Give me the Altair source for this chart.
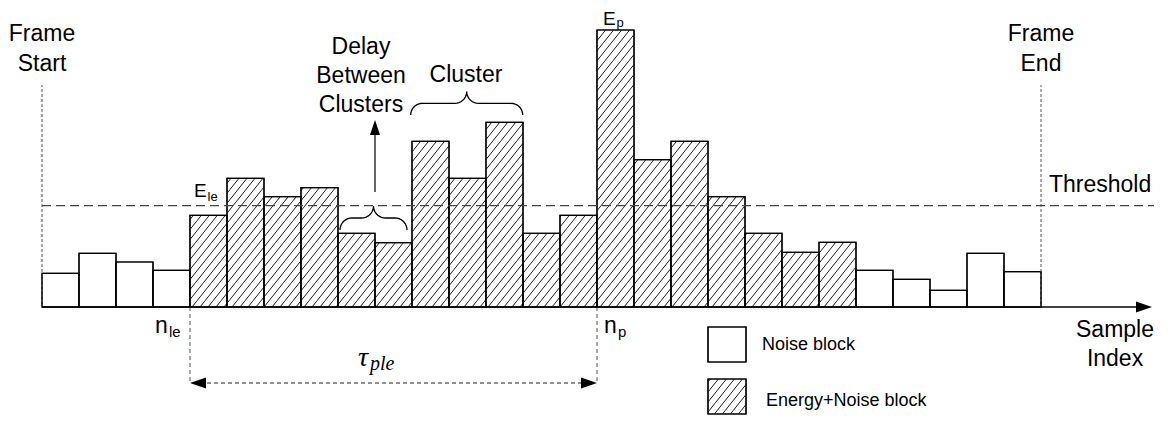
import altair as alt
import pandas as pd
import numpy as np

# ---------------- data ----------------
energy = [33.7, 53.7, 45.0, 36.7, 91.7, 128.7, 110.3, 119.3, 73.7, 64.3,
          165.7, 128.7, 184.7, 73.7, 91.7, 277.0, 147.3, 165.7, 110.3, 73.7,
          54.7, 64.7, 36.7, 27.7, 16.7, 53.7, 35.3]
kind = ["Noise"] * 4 + ["Energy+Noise"] * 18 + ["Noise"] * 5
threshold_level = 101.3
n_le_index = 4
n_p_index = 15
frame_start_index = 0
frame_end_index = 27

# ---------------- layout helpers ----------------
W, H = 1159, 407
BAR_PX = 37.0
X0_PX, BASE_PX = 42.0, 307.0


def U(px):
    return (px - X0_PX) / BAR_PX


def V(py):
    return BASE_PX - py


xs = alt.Scale(domain=[U(8), U(8 + W)], nice=False, zero=False)
ys = alt.Scale(domain=[V(8 + H), V(8)], nice=False, zero=False)


def enc_xy(**extra):
    e = dict(x=alt.X("x:Q", scale=xs, axis=None),
             y=alt.Y("y:Q", scale=ys, axis=None))
    e.update(extra)
    return e


# bars
bars_df = pd.DataFrame({
    "x": np.arange(len(energy)),
    "x2": np.arange(len(energy)) + 1,
    "y": 0.0,
    "y2": energy,
    "kind": kind,
})

# legend boxes
legend_df = pd.DataFrame({
    "x": [U(708), U(708)], "x2": [U(746), U(746)],
    "y": [V(362), V(414)], "y2": [V(327), V(379)],
    "kind": ["Noise", "Energy+Noise"],
})

# hatch lines ("/") clipped to every hatched rectangle
HATCH_D, HATCH_M = 8.0, 1.25
rects = [r for r in bars_df.itertuples() if r.kind == "Energy+Noise"]
rects += [r for r in legend_df.itertuples() if r.kind == "Energy+Noise"]
hx, hy, hx2, hy2 = [], [], [], []
for r in rects:
    xa, xb = X0_PX + r.x * BAR_PX, X0_PX + r.x2 * BAR_PX
    qa, qb = r.y, r.y2
    kmin = int(np.floor((xa - qb / HATCH_M) / HATCH_D)) - 1
    kmax = int(np.ceil((xb - qa / HATCH_M) / HATCH_D)) + 1
    for k in range(kmin, kmax + 1):
        c = k * HATCH_D
        s = max(qa, (xa - c) * HATCH_M)
        e = min(qb, (xb - c) * HATCH_M)
        if e - s > 0.5:
            hx.append(U(c + s / HATCH_M)); hy.append(s)
            hx2.append(U(c + e / HATCH_M)); hy2.append(e)
hatch_df = pd.DataFrame({"x": hx, "y": hy, "x2": hx2, "y2": hy2})

rect_enc = dict(x=alt.X("x:Q", scale=xs, axis=None), x2="x2:Q",
                y=alt.Y("y:Q", scale=ys, axis=None), y2="y2:Q")

bars = alt.Chart(bars_df).mark_rect(fill="white", stroke="black", strokeWidth=1.2).encode(**rect_enc)
legend_boxes = alt.Chart(legend_df).mark_rect(fill="white", stroke="black", strokeWidth=1.2).encode(**rect_enc)
hatch = alt.Chart(hatch_df).mark_rule(color="#222222", strokeWidth=1).encode(**rect_enc)
bar_outline = alt.Chart(bars_df).mark_rect(fill=None, stroke="black", strokeWidth=1.2).encode(**rect_enc)
legend_outline = alt.Chart(legend_df).mark_rect(fill=None, stroke="black", strokeWidth=1.2).encode(**rect_enc)


def rules(df, **kw):
    return alt.Chart(df).mark_rule(**kw).encode(**rect_enc)


frame_df = pd.DataFrame({"x": [frame_start_index, frame_end_index],
                         "x2": [frame_start_index, frame_end_index],
                         "y": [0.0, 0.0], "y2": [V(85), V(85)]})
frame_lines = rules(frame_df, color="#555555", strokeWidth=1, strokeDash=[3, 2])

thr_df = pd.DataFrame({"x": [frame_start_index], "x2": [U(1154)],
                       "y": [threshold_level], "y2": [threshold_level]})
thr_line = rules(thr_df, color="#444444", strokeWidth=1.2, strokeDash=[9, 5])

n_df = pd.DataFrame({"x": [n_le_index, n_p_index], "x2": [n_le_index, n_p_index],
                     "y": [0.0, 0.0], "y2": [V(383), V(383)]})
n_lines = rules(n_df, color="#555555", strokeWidth=1, strokeDash=[4, 3])

tau_df = pd.DataFrame({"x": [n_le_index + 10 / BAR_PX], "x2": [n_p_index - 10 / BAR_PX],
                       "y": [V(383)], "y2": [V(383)]})
tau_line = rules(tau_df, color="#222222", strokeWidth=1.2, strokeDash=[4, 3])

axis_df = pd.DataFrame({"x": [frame_start_index], "x2": [U(1138)], "y": [0.0], "y2": [0.0]})
axis_line = rules(axis_df, color="black", strokeWidth=1.5)

varrow_df = pd.DataFrame({"x": [U(375)], "x2": [U(375)], "y": [V(192)], "y2": [V(133)]})
varrow = rules(varrow_df, color="black", strokeWidth=1.2)

# arrow heads
RIGHT = "M1,0L-1,0.69L-1,-0.69Z"
LEFT = "M-1,0L1,0.69L1,-0.69Z"
UP = "M0,-1L0.67,1L-0.67,1Z"
heads_df = pd.DataFrame({
    "x": [U(1144), U(190 + 8), U(597 - 8), U(375)],
    "y": [0.0, V(383), V(383), V(127.5)],
    "shape": [RIGHT, LEFT, RIGHT, UP],
    "size": [256, 256, 256, 225],
})
heads = alt.Chart(heads_df).mark_point(filled=True, fill="black", stroke=None, opacity=1).encode(
    **enc_xy(shape=alt.Shape("shape:N", scale=None), size=alt.Size("size:Q", scale=None)))

# curly braces


def brace(name, x0, x1, ymid, r, n=10):
    xm = (x0 + x1) / 2
    pts = []
    t = np.linspace(0, np.pi / 2, n)
    pts += [(x0 + r - r * np.cos(a), ymid + r - r * np.sin(a)) for a in t]
    pts += [(xm - r + r * np.sin(a), ymid - r + r * np.cos(a)) for a in t]
    pts += [(xm + r - r * np.cos(a), ymid - r + r * np.sin(a)) for a in t]
    pts += [(x1 - r + r * np.sin(a), ymid + r - r * np.cos(a)) for a in t]
    return pd.DataFrame({"id": name, "order": range(len(pts)),
                         "x": [U(p[0]) for p in pts], "y": [V(p[1]) for p in pts]})


brace_df = pd.concat([brace("delay", 340, 407, 218, 12),
                      brace("cluster", 410.7, 522.7, 103.3, 11.7)])
braces = alt.Chart(brace_df).mark_line(color="black", strokeWidth=1.3).encode(
    **enc_xy(detail="id:N", order="order:Q"))

# texts
big_center = pd.DataFrame({
    "text": ["Frame", "Start", "Frame", "End", "Delay", "Between", "Clusters",
             "Cluster", "Sample", "Index"],
    "x": [frame_start_index, frame_start_index, U(1041), U(1041), U(361), U(361), U(361),
          U(466), U(1115), U(1115)],
    "y": [V(40.7), V(70.5), V(40.7), V(70.5), V(54), V(83.3), V(111.7),
          V(81.7), V(336.7), V(365.5)],
})
big_left = pd.DataFrame({"text": ["Threshold"], "x": [U(1049)], "y": [V(191.7)]})
small_left = pd.DataFrame({"text": ["Noise block", "Energy+Noise block"],
                           "x": [U(762), U(766)], "y": [V(350), V(406)]})
E_main = pd.DataFrame({"text": ["E", "E"], "x": [U(194), U(603)], "y": [V(197), V(24.5)]})
E_sub = pd.DataFrame({"text": ["le", "p"], "x": [U(207.5), U(616.5)], "y": [V(201), V(26.5)]})
n_main = pd.DataFrame({"text": ["n", "n"], "x": [U(155), U(604)], "y": [V(333), V(333)]})
n_sub = pd.DataFrame({"text": ["le", "p"], "x": [U(169), U(618)], "y": [V(337), V(337)]})
tau_main = pd.DataFrame({"text": ["τ"], "x": [U(358)], "y": [V(366)]})
tau_sub = pd.DataFrame({"text": ["ple"], "x": [U(370)], "y": [V(370)]})

SANS = "Liberation Sans"
SERIF = "Liberation Serif"


def texts(df, **kw):
    return alt.Chart(df).mark_text(baseline="alphabetic", color="black", **kw).encode(
        **enc_xy(text="text:N"))


layers = [
    bars, legend_boxes, hatch, bar_outline, legend_outline,
    frame_lines, thr_line, n_lines, tau_line, axis_line, varrow, heads, braces,
    texts(big_center, align="center", font=SANS, fontSize=23),
    texts(big_left, align="left", font=SANS, fontSize=23),
    texts(small_left, align="left", font=SANS, fontSize=18),
    texts(E_main, align="left", font=SANS, fontSize=19),
    texts(E_sub, align="left", font=SANS, fontSize=13),
    texts(n_main, align="left", font=SANS, fontSize=23),
    texts(n_sub, align="left", font=SANS, fontSize=15),
    texts(tau_main, align="left", font=SERIF, fontStyle="italic", fontSize=28),
    texts(tau_sub, align="left", font=SERIF, fontStyle="italic", fontSize=20),
]

chart = alt.layer(*layers).properties(
    width=W, height=H, padding=0, autosize=alt.AutoSizeParams(type="none"),
    background="white",
).configure_view(stroke=None)

chart.save("out.html", embed_options={"renderer": "svg", "actions": False})
